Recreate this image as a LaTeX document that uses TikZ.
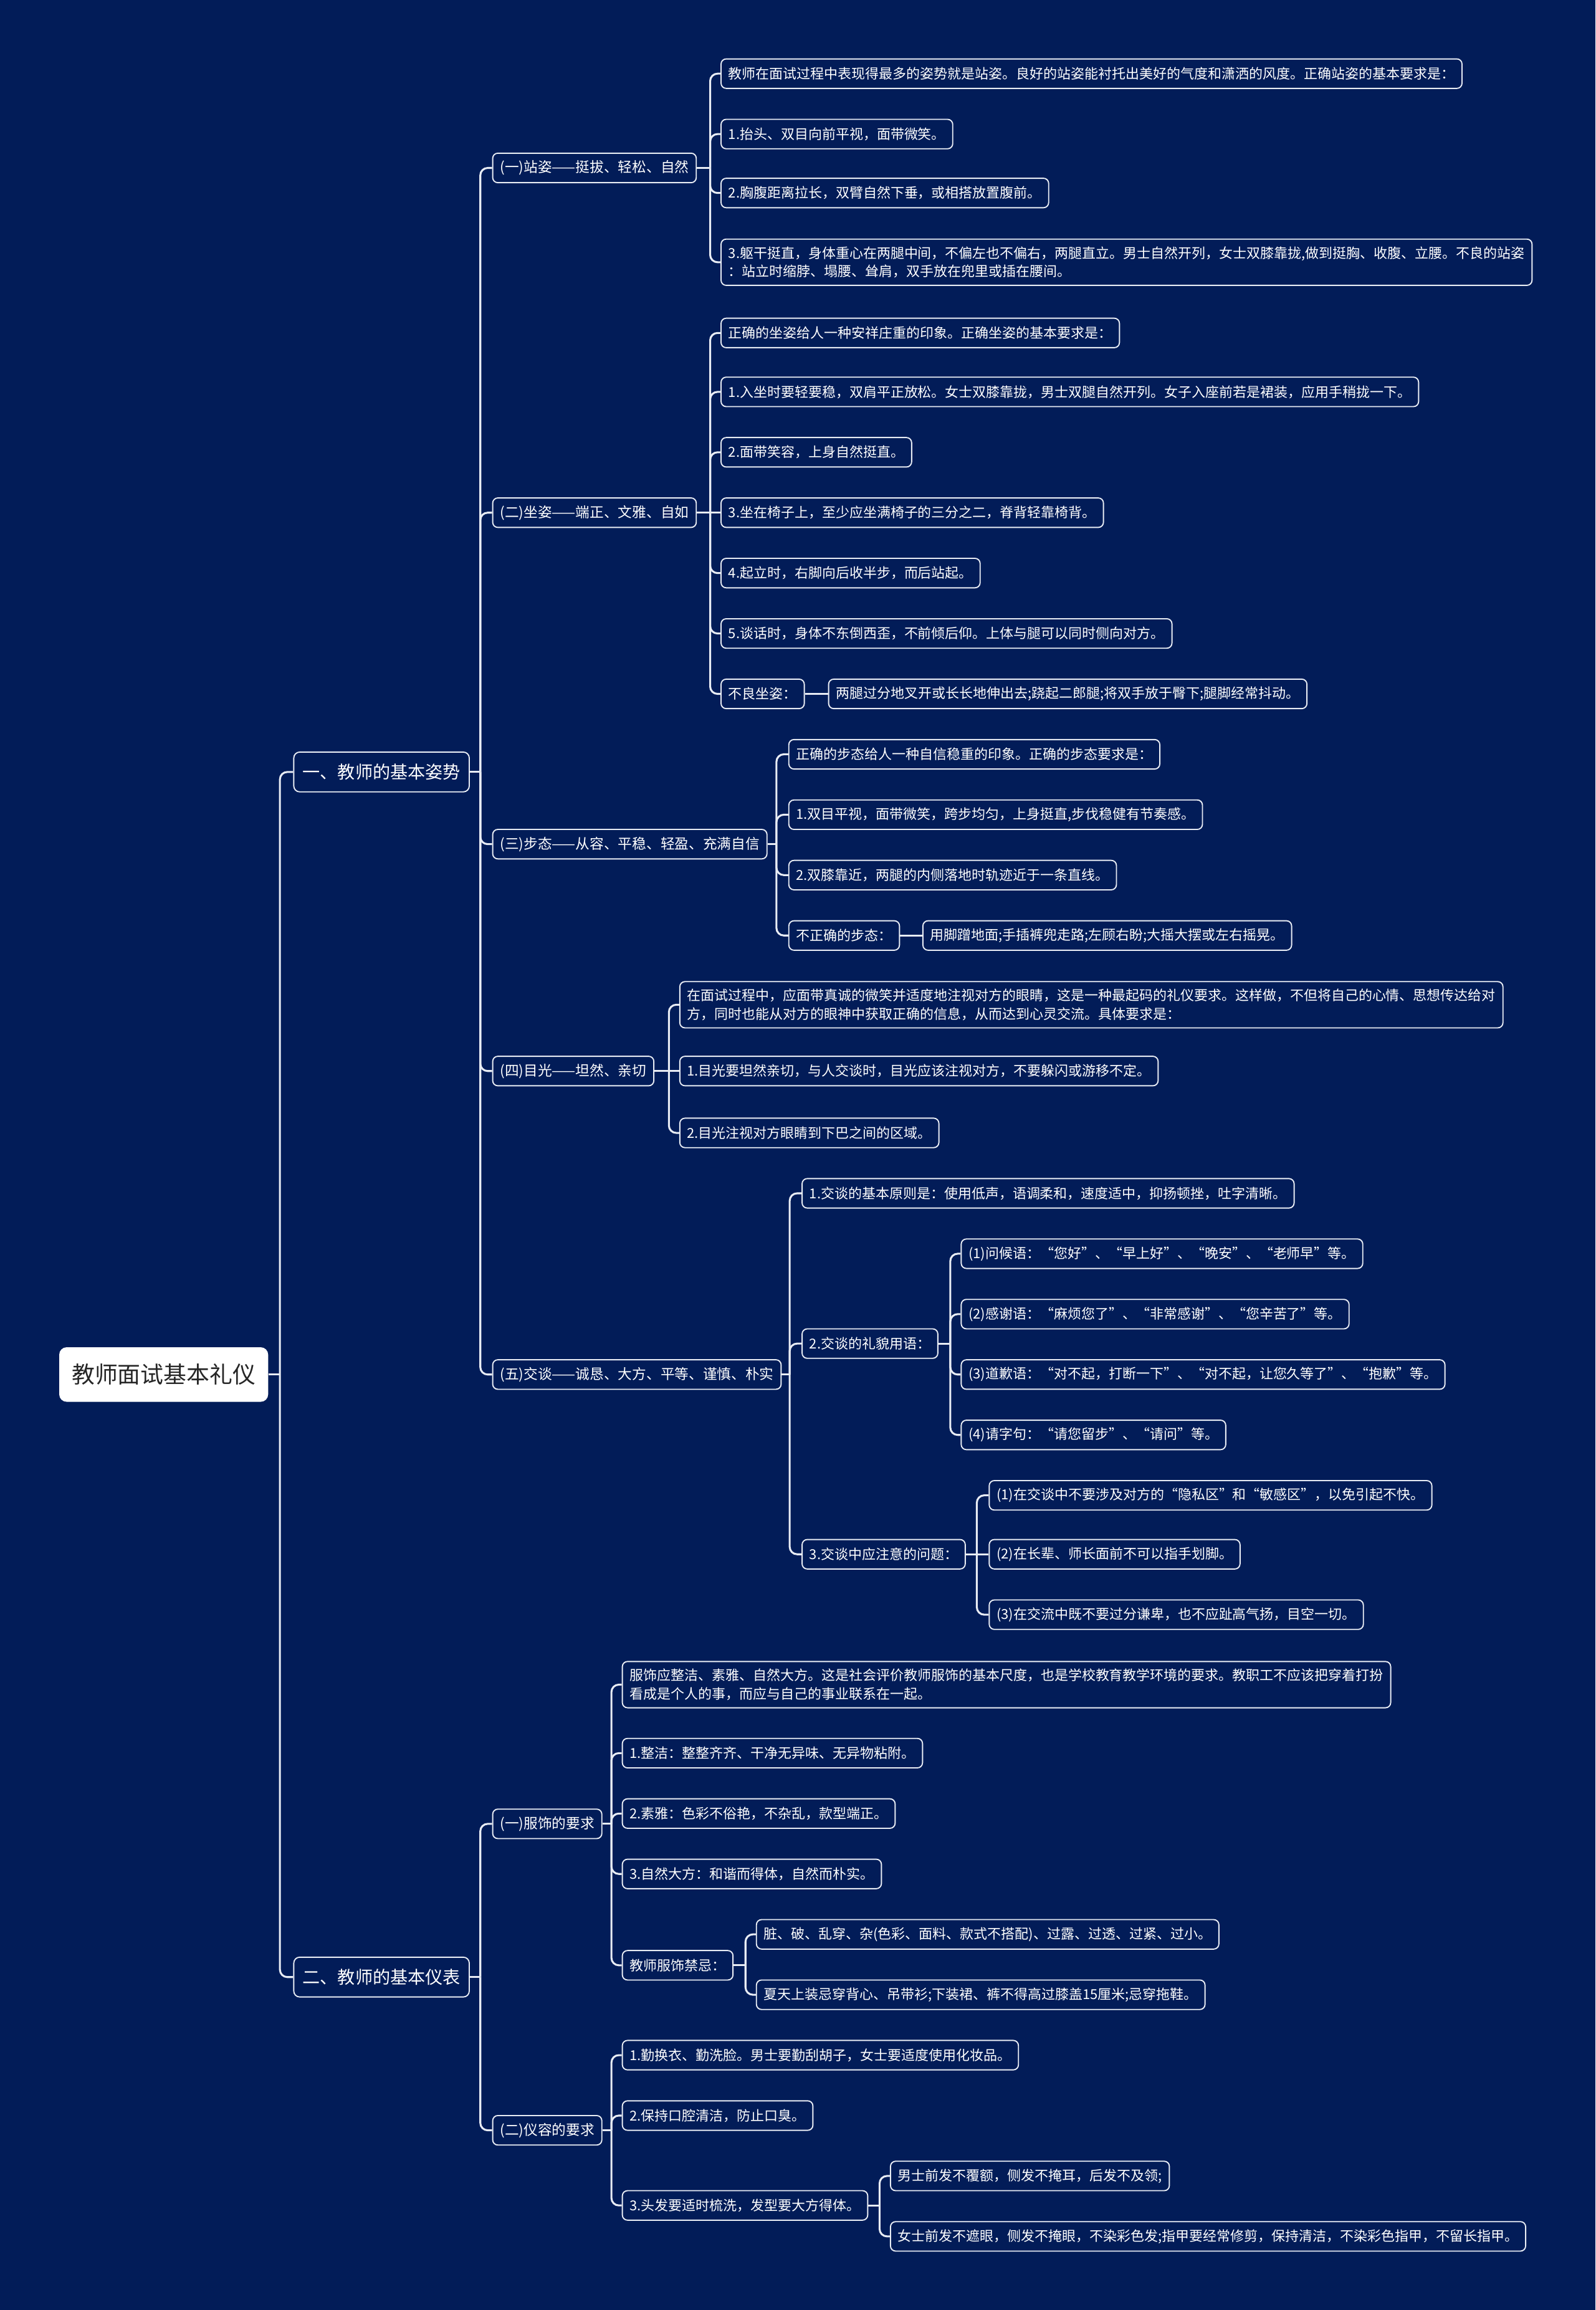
\documentclass[tikz,border=0pt]{standalone}
\usepackage{fontspec}
\setmainfont{Noto Sans CJK SC}
\usetikzlibrary{positioning}
\definecolor{navy}{HTML}{021C58}
\definecolor{rim}{HTML}{E8ECF4}

\begin{document}
\begin{tikzpicture}[
    x=1pt, y=-1pt,
    rootbox/.style={rectangle, rounded corners=5pt, fill=white, text=black!85, font=\fontsize{15.6}{18}\selectfont, inner xsep=8.5pt, inner ysep=0pt, minimum height=37pt, anchor=west},
    mainbox/.style={rectangle, rounded corners=4pt, draw=rim, line width=0.8pt, fill=navy, text=white, font=\fontsize{11.9}{14}\selectfont, inner xsep=6pt, inner ysep=0pt, minimum height=27pt, anchor=west},
    leafbox/.style={rectangle, rounded corners=3.5pt, draw=rim, line width=0.8pt, fill=navy, text=white, font=\fontsize{9.3}{12.5}\selectfont, inner xsep=5pt, inner ysep=5pt, minimum height=20pt, align=left, anchor=west},
    topicbox/.style={leafbox, font=\fontsize{9.6}{12.5}\selectfont},
    link/.style={rim, line width=1.3pt, rounded corners=5pt}
]
\useasboundingbox (0,0) rectangle (1083,1568);
\fill[navy] (0,0) rectangle (1083,1568);

% Root and main branches
\node[rootbox] (root) at (40,933) {教师面试基本礼仪};
\node[mainbox] (n1) at (199,524) {一、教师的基本姿势};
\node[mainbox] (n2) at (199,1342) {二、教师的基本仪表};

% Topics
\node[topicbox] (zhan) at (334,114)  {(一)站姿——挺拔、轻松、自然};
\node[topicbox] (zuo)  at (334,348)  {(二)坐姿——端正、文雅、自如};
\node[topicbox] (bu)   at (334,573)  {(三)步态——从容、平稳、轻盈、充满自信};
\node[topicbox] (mu)   at (334,727)  {(四)目光——坦然、亲切};
\node[topicbox] (tan)  at (334,933)  {(五)交谈——诚恳、大方、平等、谨慎、朴实};
\node[topicbox] (fu)   at (334,1238) {(一)服饰的要求};
\node[topicbox] (rong) at (334,1446) {(二)仪容的要求};

% Standing
\node[leafbox] (zhan0) at (489,50)  {教师在面试过程中表现得最多的姿势就是站姿。良好的站姿能衬托出美好的气度和潇洒的风度。正确站姿的基本要求是：};
\node[leafbox] (zhan1) at (489,91)  {1.抬头、双目向前平视，面带微笑。};
\node[leafbox] (zhan2) at (489,131) {2.胸腹距离拉长，双臂自然下垂，或相搭放置腹前。};
\node[leafbox] (zhan3) at (489,178) {3.躯干挺直，身体重心在两腿中间，不偏左也不偏右，两腿直立。男士自然开列，女士双膝靠拢,做到挺胸、收腹、立腰。不良的站姿\\：站立时缩脖、塌腰、耸肩，双手放在兜里或插在腰间。};

% Sitting
\node[leafbox] (zuo0) at (489,226) {正确的坐姿给人一种安祥庄重的印象。正确坐姿的基本要求是：};
\node[leafbox] (zuo1) at (489,266) {1.入坐时要轻要稳，双肩平正放松。女士双膝靠拢，男士双腿自然开列。女子入座前若是裙装，应用手稍拢一下。};
\node[leafbox] (zuo2) at (489,307) {2.面带笑容，上身自然挺直。};
\node[leafbox] (zuo3) at (489,348) {3.坐在椅子上，至少应坐满椅子的三分之二，脊背轻靠椅背。};
\node[leafbox] (zuo4) at (489,389) {4.起立时，右脚向后收半步，而后站起。};
\node[leafbox] (zuo5) at (489,430) {5.谈话时，身体不东倒西歪，不前倾后仰。上体与腿可以同时侧向对方。};
\node[leafbox] (zuobad)  at (489,471) {不良坐姿：};
\node[leafbox] (zuobadx) at (562,471) {两腿过分地叉开或长长地伸出去;跷起二郎腿;将双手放于臀下;腿脚经常抖动。};

% Walking
\node[leafbox] (bu0) at (535,512) {正确的步态给人一种自信稳重的印象。正确的步态要求是：};
\node[leafbox] (bu1) at (535,553) {1.双目平视，面带微笑，跨步均匀，上身挺直,步伐稳健有节奏感。};
\node[leafbox] (bu2) at (535,594) {2.双膝靠近，两腿的内侧落地时轨迹近于一条直线。};
\node[leafbox] (bubad)  at (535,635) {不正确的步态：};
\node[leafbox] (bubadx) at (626,635) {用脚蹭地面;手插裤兜走路;左顾右盼;大摇大摆或左右摇晃。};

% Eyes
\node[leafbox] (mu0) at (461,682) {在面试过程中，应面带真诚的微笑并适度地注视对方的眼睛，这是一种最起码的礼仪要求。这样做，不但将自己的心情、思想传达给对\\方，同时也能从对方的眼神中获取正确的信息，从而达到心灵交流。具体要求是：};
\node[leafbox] (mu1) at (461,727) {1.目光要坦然亲切，与人交谈时，目光应该注视对方，不要躲闪或游移不定。};
\node[leafbox] (mu2) at (461,769) {2.目光注视对方眼睛到下巴之间的区域。};

% Talking
\node[leafbox] (tan1)  at (544,810)  {1.交谈的基本原则是：使用低声，语调柔和，速度适中，抑扬顿挫，吐字清晰。};
\node[leafbox] (tan2)  at (544,912)  {2.交谈的礼貌用语：};
\node[leafbox] (tan2a) at (652,851)  {(1)问候语：“您好”、“早上好”、“晚安”、“老师早”等。};
\node[leafbox] (tan2b) at (652,892)  {(2)感谢语：“麻烦您了”、“非常感谢”、“您辛苦了”等。};
\node[leafbox] (tan2c) at (652,933)  {(3)道歉语：“对不起，打断一下”、“对不起，让您久等了”、“抱歉”等。};
\node[leafbox] (tan2d) at (652,974)  {(4)请字句：“请您留步”、“请问”等。};
\node[leafbox] (tan3)  at (544,1055) {3.交谈中应注意的问题：};
\node[leafbox] (tan3a) at (671,1015) {(1)在交谈中不要涉及对方的“隐私区”和“敏感区”，以免引起不快。};
\node[leafbox] (tan3b) at (671,1055) {(2)在长辈、师长面前不可以指手划脚。};
\node[leafbox] (tan3c) at (671,1096) {(3)在交流中既不要过分谦卑，也不应趾高气扬，目空一切。};

% Dress
\node[leafbox] (fu0) at (422,1143.5) {服饰应整洁、素雅、自然大方。这是社会评价教师服饰的基本尺度，也是学校教育教学环境的要求。教职工不应该把穿着打扮\\看成是个人的事，而应与自己的事业联系在一起。};
\node[leafbox] (fu1) at (422,1190) {1.整洁：整整齐齐、干净无异味、无异物粘附。};
\node[leafbox] (fu2) at (422,1231) {2.素雅：色彩不俗艳，不杂乱，款型端正。};
\node[leafbox] (fu3) at (422,1272) {3.自然大方：和谐而得体，自然而朴实。};
\node[leafbox] (fubad)  at (422,1334) {教师服饰禁忌：};
\node[leafbox] (fubada) at (513,1313) {脏、破、乱穿、杂(色彩、面料、款式不搭配)、过露、过透、过紧、过小。};
\node[leafbox] (fubadb) at (513,1354) {夏天上装忌穿背心、吊带衫;下装裙、裤不得高过膝盖15厘米;忌穿拖鞋。};

% Appearance
\node[leafbox] (rong1) at (422,1395) {1.勤换衣、勤洗脸。男士要勤刮胡子，女士要适度使用化妆品。};
\node[leafbox] (rong2) at (422,1436) {2.保持口腔清洁，防止口臭。};
\node[leafbox] (rong3) at (422,1497) {3.头发要适时梳洗，发型要大方得体。};
\node[leafbox] (rong3a) at (604,1477) {男士前发不覆额，侧发不掩耳，后发不及领;};
\node[leafbox] (rong3b) at (604,1518) {女士前发不遮眼，侧发不掩眼，不染彩色发;指甲要经常修剪，保持清洁，不染彩色指甲，不留长指甲。};

% Junctions
\coordinate (rootj) at (190,933);
\coordinate (n1j) at (326,524);
\coordinate (n2j) at (326,1342);
\coordinate (zhanj) at (482,114);
\coordinate (zuoj) at (482,348);
\coordinate (buj) at (527,573);
\coordinate (muj) at (454,727);
\coordinate (tanj) at (536,933);
\coordinate (tan2j) at (645,912);
\coordinate (tan3j) at (663,1055);
\coordinate (fuj) at (415,1238);
\coordinate (fubadj) at (506,1334);
\coordinate (rongj) at (415,1446);
\coordinate (rong3j) at (597,1497);

% Links
\draw[link] (root.east) -- (rootj);
\draw[link] (rootj) |- (n1.west);
\draw[link] (rootj) |- (n2.west);

\draw[link] (n1.east) -- (n1j);
\draw[link] (n1j) |- (zhan.west);
\draw[link] (n1j) |- (zuo.west);
\draw[link] (n1j) |- (bu.west);
\draw[link] (n1j) |- (mu.west);
\draw[link] (n1j) |- (tan.west);

\draw[link] (n2.east) -- (n2j);
\draw[link] (n2j) |- (fu.west);
\draw[link] (n2j) |- (rong.west);

\draw[link] (zhan.east) -- (zhanj);
\draw[link] (zhanj) |- (zhan0.west);
\draw[link] (zhanj) |- (zhan1.west);
\draw[link] (zhanj) |- (zhan2.west);
\draw[link] (zhanj) |- (zhan3.west);

\draw[link] (zuo.east) -- (zuoj);
\draw[link] (zuoj) |- (zuo0.west);
\draw[link] (zuoj) |- (zuo1.west);
\draw[link] (zuoj) |- (zuo2.west);
\draw[link] (zuoj) -- (zuo3.west);
\draw[link] (zuoj) |- (zuo4.west);
\draw[link] (zuoj) |- (zuo5.west);
\draw[link] (zuoj) |- (zuobad.west);
\draw[link] (zuobad.east) -- (zuobadx.west);

\draw[link] (bu.east) -- (buj);
\draw[link] (buj) |- (bu0.west);
\draw[link] (buj) |- (bu1.west);
\draw[link] (buj) |- (bu2.west);
\draw[link] (buj) |- (bubad.west);
\draw[link] (bubad.east) -- (bubadx.west);

\draw[link] (mu.east) -- (muj);
\draw[link] (muj) |- (mu0.west);
\draw[link] (muj) -- (mu1.west);
\draw[link] (muj) |- (mu2.west);

\draw[link] (tan.east) -- (tanj);
\draw[link] (tanj) |- (tan1.west);
\draw[link] (tanj) |- (tan2.west);
\draw[link] (tanj) |- (tan3.west);
\draw[link] (tan2.east) -- (tan2j);
\draw[link] (tan2j) |- (tan2a.west);
\draw[link] (tan2j) |- (tan2b.west);
\draw[link] (tan2j) |- (tan2c.west);
\draw[link] (tan2j) |- (tan2d.west);
\draw[link] (tan3.east) -- (tan3j);
\draw[link] (tan3j) |- (tan3a.west);
\draw[link] (tan3j) -- (tan3b.west);
\draw[link] (tan3j) |- (tan3c.west);

\draw[link] (fu.east) -- (fuj);
\draw[link] (fuj) |- (fu0.west);
\draw[link] (fuj) |- (fu1.west);
\draw[link] (fuj) |- (fu2.west);
\draw[link] (fuj) |- (fu3.west);
\draw[link] (fuj) |- (fubad.west);
\draw[link] (fubad.east) -- (fubadj);
\draw[link] (fubadj) |- (fubada.west);
\draw[link] (fubadj) |- (fubadb.west);

\draw[link] (rong.east) -- (rongj);
\draw[link] (rongj) |- (rong1.west);
\draw[link] (rongj) |- (rong2.west);
\draw[link] (rongj) |- (rong3.west);
\draw[link] (rong3.east) -- (rong3j);
\draw[link] (rong3j) |- (rong3a.west);
\draw[link] (rong3j) |- (rong3b.west);
\end{tikzpicture}
\end{document}
